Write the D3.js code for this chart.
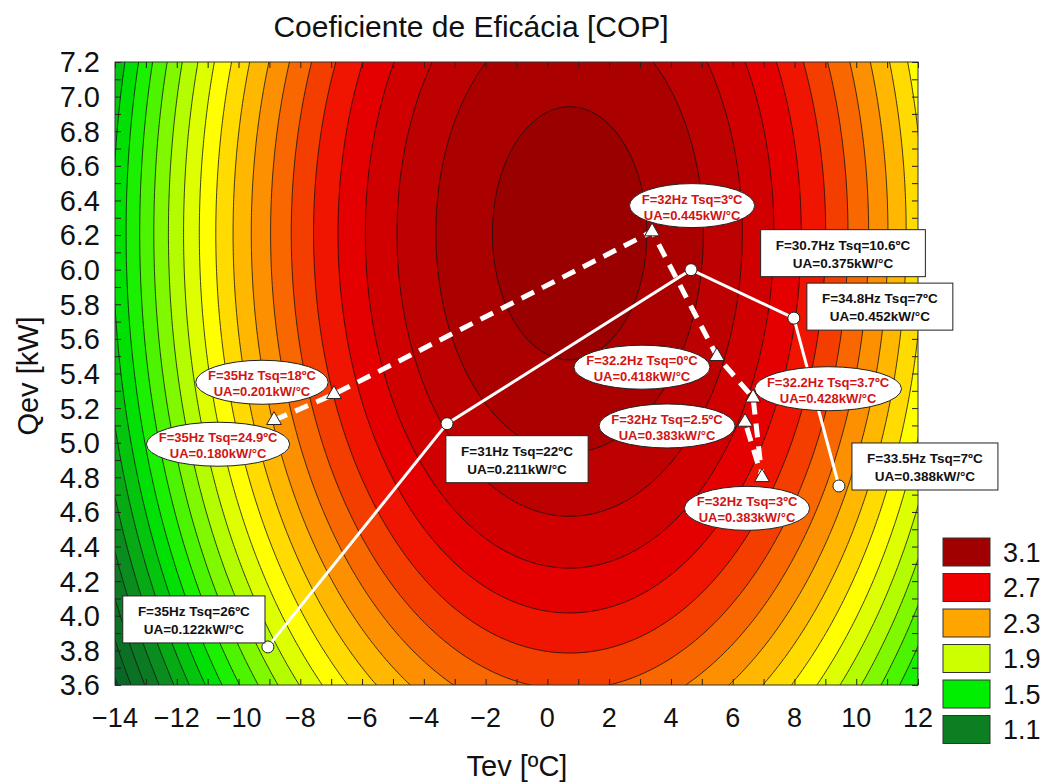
<!DOCTYPE html>
<html>
<head>
<meta charset="utf-8">
<script src="https://cdn.jsdelivr.net/npm/d3@7"></script>
<style>
  body { margin: 0; background: #fff; }
  text { font-family: Arial, "Liberation Sans", sans-serif; }
</style>
</head>
<body>
<main></main>
<script>
const copPeakAt = [0.72, 6.21];          // Tev [ºC], Qev [kW] of the maximum
const copPeak = [3.15];
const copCurvature = [0.0080, 0.0935];   // drop per ºC², per kW²
const contourLevels = [0.7, 0.8, 0.9, 1.0, 1.1, 1.2, 1.3, 1.4, 1.5, 1.6, 1.7, 1.8, 1.9,
                       2.0, 2.1, 2.2, 2.3, 2.4, 2.5, 2.6, 2.7, 2.8, 2.9, 3.0, 3.1];
const legendValues = [3.1, 2.7, 2.3, 1.9, 1.5, 1.1];

const xTickLabels = [-14, -12, -10, -8, -6, -4, -2, 0, 2, 4, 6, 8, 10, 12];
const yTickLabels = [3.6, 3.8, 4.0, 4.2, 4.4, 4.6, 4.8, 5.0, 5.2, 5.4, 5.6, 5.8,
                     6.0, 6.2, 6.4, 6.6, 6.8, 7.0, 7.2];

// solid line, circles
const solidTev = [-9.05, -3.25, 4.65, 7.98, 9.44];
const solidQev = [3.82, 5.11, 6.00, 5.72, 4.75];
const solidLabels = [
  ["F=35Hz Tsq=26ºC", "UA=0.122kW/°C"],
  ["F=31Hz Tsq=22ºC", "UA=0.211kW/°C"],
  ["F=30.7Hz Tsq=10.6ºC", "UA=0.375kW/°C"],
  ["F=34.8Hz Tsq=7ºC", "UA=0.452kW/°C"],
  ["F=33.5Hz Tsq=7ºC", "UA=0.388kW/°C"]
];

// dashed line, triangles
const dashedTev = [-8.85, -6.91, 3.39, 5.49, 6.66, 6.95, 6.40];
const dashedQev = [5.13, 5.28, 6.22, 5.50, 5.26, 4.80, 5.12];
const dashedLabels = [
  ["F=35Hz Tsq=24.9ºC", "UA=0.180kW/°C"],
  ["F=35Hz Tsq=18ºC", "UA=0.201kW/°C"],
  ["F=32Hz Tsq=3ºC", "UA=0.445kW/°C"],
  ["F=32.2Hz Tsq=0ºC", "UA=0.418kW/°C"],
  ["F=32.2Hz Tsq=3.7ºC", "UA=0.428kW/°C"],
  ["F=32Hz Tsq=3ºC", "UA=0.383kW/°C"],
  ["F=32Hz Tsq=2.5ºC", "UA=0.383kW/°C"]
];

// label placement (pixel offsets from the point)
const solidOffsets = [[-74, -28], [70, 35], [152, -17], [86, -12], [86, -20]];
const dashedOffsets = [[-56, 24], [-72, -12], [40, -26], [-75, 11], [75, -9], [-15, 31], [-78, 4]];

const width = 1051, height = 783;
const plot = { left: 115, right: 918, top: 62, bottom: 685 };

const svg = d3.select('main').append('svg')
    .attr('width', width)
    .attr('height', height);

const x = d3.scaleLinear().domain([-14, 12]).range([plot.left, plot.right]);
const y = d3.scaleLinear().domain([3.6, 7.2]).range([plot.bottom, plot.top]);

const color = d3.scaleLinear()
    .domain([0.7, 1.1, 1.5, 1.9, 2.05, 2.3, 2.7, 3.1, 3.2])
    .range(["#07592a", "#0b7f22", "#00ee00", "#ccff00", "#ffff00", "#ffa500", "#ee0000", "#a00000", "#960000"])
    .clamp(true);

function cop(t, q) {
    const dt = t - copPeakAt[0], dq = q - copPeakAt[1];
    return copPeak[0] - copCurvature[0] * dt * dt - copCurvature[1] * dq * dq;
}

// sample the surface on a grid a bit larger than the plot
const nx = 281, ny = 201;
const tMin = -14.5, tMax = 12.5, qMin = 3.5, qMax = 7.3;
const dT = (tMax - tMin) / (nx - 1), dQ = (qMax - qMin) / (ny - 1);
const grid = new Array(nx * ny);
for (let j = 0; j < ny; j++) {
    for (let i = 0; i < nx; i++) {
        grid[j * nx + i] = cop(tMin + i * dT, qMax - j * dQ);
    }
}

const contours = d3.contours().size([nx, ny]).thresholds(contourLevels)(grid);
const toPixels = d3.geoTransform({
    point: function(cx, cy) {
        this.stream.point(x(tMin + (cx - 0.5) * dT), y(qMax - (cy - 0.5) * dQ));
    }
});
const path = d3.geoPath(toPixels);

svg.append('clipPath').attr('id', 'plot-clip')
  .append('rect')
    .attr('x', plot.left).attr('y', plot.top)
    .attr('width', plot.right - plot.left).attr('height', plot.bottom - plot.top);

const bands = svg.append('g').attr('clip-path', 'url(#plot-clip)');
bands.append('rect')
    .attr('x', plot.left).attr('y', plot.top)
    .attr('width', plot.right - plot.left).attr('height', plot.bottom - plot.top)
    .attr('fill', color(0.65));
bands.selectAll('path')
    .data(contours)
    .enter().append('path')
    .attr('d', path)
    .attr('fill', d => color(d.value + 0.05))
    .attr('stroke', '#111')
    .attr('stroke-width', 0.8);

// inward ticks on all four sides
const tickLen = 6;
svg.append('g').attr('transform', `translate(0,${plot.bottom})`)
    .call(d3.axisBottom(x).tickValues(d3.range(-14, 13, 1)).tickSizeInner(-tickLen).tickSizeOuter(0).tickFormat(''));
svg.append('g').attr('transform', `translate(0,${plot.top})`)
    .call(d3.axisTop(x).tickValues(d3.range(-14, 13, 1)).tickSizeInner(-tickLen).tickSizeOuter(0).tickFormat(''));
svg.append('g').attr('transform', `translate(${plot.left},0)`)
    .call(d3.axisLeft(y).tickValues(d3.range(36, 73, 1).map(v => v / 10)).tickSizeInner(-tickLen).tickSizeOuter(0).tickFormat(''));
svg.append('g').attr('transform', `translate(${plot.right},0)`)
    .call(d3.axisRight(y).tickValues(d3.range(36, 73, 1).map(v => v / 10)).tickSizeInner(-tickLen).tickSizeOuter(0).tickFormat(''));
svg.selectAll('.domain').remove();
svg.selectAll('.tick line').attr('stroke', '#222');

svg.append('rect')
    .attr('x', plot.left).attr('y', plot.top)
    .attr('width', plot.right - plot.left).attr('height', plot.bottom - plot.top)
    .attr('fill', 'none').attr('stroke', '#333').attr('stroke-width', 1);

// tick labels
svg.append('g').selectAll('text')
    .data(xTickLabels)
    .enter().append('text')
    .attr('x', d => x(d))
    .attr('y', 727)
    .attr('text-anchor', 'middle')
    .attr('font-size', 27)
    .attr('fill', '#111')
    .text(d => d3.format('d')(d));

svg.append('g').selectAll('text')
    .data(yTickLabels)
    .enter().append('text')
    .attr('x', 100)
    .attr('y', d => y(d))
    .attr('dy', '0.36em')
    .attr('text-anchor', 'end')
    .attr('font-size', 29)
    .attr('fill', '#111')
    .text(d => d3.format('.1f')(d));

// titles
svg.append('text')
    .attr('x', 471).attr('y', 37)
    .attr('text-anchor', 'middle')
    .attr('font-size', 30)
    .attr('fill', '#111')
    .text('Coeficiente de Eficácia [COP]');

svg.append('text')
    .attr('x', 517).attr('y', 776)
    .attr('text-anchor', 'middle')
    .attr('font-size', 29)
    .attr('fill', '#111')
    .text('Tev [ºC]');

svg.append('text')
    .attr('transform', 'translate(38,376) rotate(-90)')
    .attr('text-anchor', 'middle')
    .attr('font-size', 29)
    .attr('fill', '#111')
    .text('Qev [kW]');

// series lines
const solidPts = solidTev.map((t, i) => [x(t), y(solidQev[i])]);
const dashedPts = dashedTev.map((t, i) => [x(t), y(dashedQev[i])]);
const line = d3.line();

svg.append('path')
    .attr('d', line(dashedPts))
    .attr('fill', 'none')
    .attr('stroke', '#fff')
    .attr('stroke-width', 5)
    .attr('stroke-dasharray', '14,9');

svg.append('path')
    .attr('d', line(solidPts))
    .attr('fill', 'none')
    .attr('stroke', '#fff')
    .attr('stroke-width', 3);

svg.append('g').selectAll('path')
    .data(dashedPts)
    .enter().append('path')
    .attr('transform', d => `translate(${d[0]},${d[1]})`)
    .attr('d', d3.symbol(d3.symbolTriangle, 95))
    .attr('fill', '#fff')
    .attr('stroke', '#222')
    .attr('stroke-width', 1);

svg.append('g').selectAll('circle')
    .data(solidPts)
    .enter().append('circle')
    .attr('cx', d => d[0]).attr('cy', d => d[1])
    .attr('r', 6)
    .attr('fill', '#fff')
    .attr('stroke', '#222')
    .attr('stroke-width', 1);

// ellipse labels (red text)
dashedPts.forEach((p, i) => {
    const cx = p[0] + dashedOffsets[i][0], cy = p[1] + dashedOffsets[i][1];
    const g = svg.append('g');
    const ell = g.append('ellipse')
        .attr('cx', cx).attr('cy', cy)
        .attr('fill', '#fff').attr('stroke', '#222').attr('stroke-width', 1);
    const t = g.append('text')
        .attr('text-anchor', 'middle')
        .attr('font-size', 13)
        .attr('font-weight', 'bold')
        .attr('fill', '#d01515');
    dashedLabels[i].forEach((s, k) => {
        t.append('tspan').attr('x', cx).attr('y', cy + (k === 0 ? -2 : 14)).text(s);
    });
    const w = t.node().getBBox().width;
    ell.attr('rx', w / 2 + 12).attr('ry', 22);
});

// box labels (black text)
solidPts.forEach((p, i) => {
    const cx = p[0] + solidOffsets[i][0], cy = p[1] + solidOffsets[i][1];
    const g = svg.append('g');
    const box = g.append('rect')
        .attr('fill', '#fff').attr('stroke', '#222').attr('stroke-width', 1);
    const t = g.append('text')
        .attr('text-anchor', 'middle')
        .attr('font-size', 13.5)
        .attr('font-weight', 'bold')
        .attr('fill', '#111');
    solidLabels[i].forEach((s, k) => {
        t.append('tspan').attr('x', cx).attr('y', cy + (k === 0 ? -3 : 15)).text(s);
    });
    const w = t.node().getBBox().width + 30;
    box.attr('x', cx - w / 2).attr('y', cy - 23).attr('width', w).attr('height', 47);
});

// legend
const legend = svg.append('g');
legendValues.forEach((v, i) => {
    const top = 538 + i * 35.5;
    legend.append('rect')
        .attr('x', 943).attr('y', top)
        .attr('width', 47).attr('height', 28)
        .attr('fill', color(v))
        .attr('stroke', '#333').attr('stroke-width', 1);
    legend.append('text')
        .attr('x', 1003).attr('y', top + 14)
        .attr('dy', '0.36em')
        .attr('font-size', 27)
        .attr('fill', '#111')
        .text(d3.format('.1f')(v));
});
</script>
</body>
</html>
